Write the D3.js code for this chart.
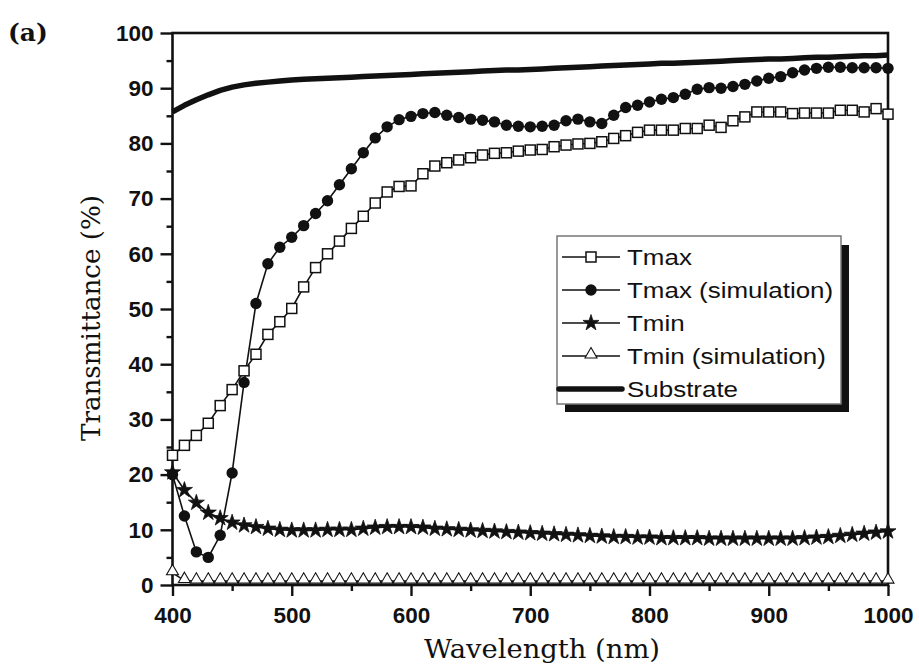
<!DOCTYPE html>
<html>
<head>
<meta charset="utf-8">
<script src="https://cdn.jsdelivr.net/npm/d3@7"></script>
<style>
  body { margin: 0; background: #fff; }
  svg { display: block; }
</style>
</head>
<body>
<div id="chart"></div>
<script>
// wavelengths (nm), one point every 10 nm
var wavelength = [400,410,420,430,440,450,460,470,480,490,
  500,510,520,530,540,550,560,570,580,590,
  600,610,620,630,640,650,660,670,680,690,
  700,710,720,730,740,750,760,770,780,790,
  800,810,820,830,840,850,860,870,880,890,
  900,910,920,930,940,950,960,970,980,990,
  1000];

var tmax = [23.5,25.3,27.1,29.3,32.5,35.4,38.8,41.8,45.4,47.7,
  50.1,54,57.5,60,62.3,64.6,66.8,69.2,71.2,72.2,
  72.3,74.5,75.9,76.5,77,77.4,77.9,78.2,78.3,78.6,
  78.8,78.9,79.4,79.7,79.9,80,80.3,80.9,81.4,82,
  82.4,82.4,82.4,82.7,82.7,83.3,82.9,84.1,84.8,85.7,
  85.7,85.7,85.4,85.5,85.5,85.5,86,86,85.7,86.3,
  85.3];

var tmaxSim = [20,12.5,6,5,9,20.3,36.7,51,58.2,61.2,
  63,65.1,67.3,69.6,72.5,75.4,78.3,81,83,84.3,
  84.9,85.4,85.6,85.1,84.7,84.4,84.2,83.9,83.3,83.1,
  83,83.1,83.3,84.1,84.4,83.9,83.6,85.1,86.5,86.9,
  87.5,88,88.3,88.9,89.8,90.1,90,90.3,90.7,91.3,
  91.8,92.1,92.8,93.3,93.6,93.8,93.8,93.7,93.7,93.7,
  93.6];

var tmin = [20.4,17.2,14.9,13.1,12.1,11.3,10.8,10.5,10.2,10,
  9.9,9.9,9.9,10,10,10,10.2,10.4,10.5,10.5,
  10.5,10.4,10.2,10.1,10,9.9,9.8,9.7,9.6,9.5,
  9.4,9.3,9.2,9.1,9,8.9,8.8,8.7,8.7,8.6,
  8.6,8.5,8.5,8.5,8.5,8.4,8.4,8.4,8.4,8.4,
  8.4,8.4,8.4,8.5,8.6,8.7,8.9,9.1,9.3,9.5,
  9.7];

var tminSim = [2.2,0.8,0.7,0.7,0.7,0.7,0.7,0.7,0.7,0.7,
  0.7,0.7,0.7,0.7,0.7,0.7,0.7,0.7,0.7,0.7,
  0.7,0.7,0.7,0.7,0.7,0.7,0.7,0.7,0.7,0.7,
  0.7,0.7,0.7,0.7,0.7,0.7,0.7,0.7,0.7,0.7,
  0.7,0.7,0.7,0.7,0.7,0.7,0.7,0.7,0.7,0.7,
  0.7,0.7,0.7,0.7,0.7,0.7,0.7,0.7,0.7,0.7,
  0.7];

var substrate = [85.7,86.9,87.9,88.8,89.6,90.2,90.6,90.9,91.1,91.3,
  91.5,91.6,91.7,91.8,91.9,92.0,92.1,92.2,92.3,92.4,
  92.5,92.6,92.7,92.8,92.9,93.0,93.1,93.2,93.3,93.3,
  93.4,93.5,93.6,93.7,93.8,93.9,94.0,94.1,94.2,94.3,
  94.4,94.5,94.5,94.6,94.7,94.8,94.9,95.0,95.1,95.2,
  95.3,95.3,95.4,95.5,95.6,95.6,95.7,95.8,95.9,95.9,
  96.0];

var xTicks = [400, 500, 600, 700, 800, 900, 1000];
var yTicks = [0, 10, 20, 30, 40, 50, 60, 70, 80, 90, 100];
var legendNames = ["Tmax", "Tmax (simulation)", "Tmin", "Tmin (simulation)", "Substrate"];

var ink = "#111";

// set the dimensions and margins of the graph
var margin = {top: 33, right: 31, bottom: 79, left: 172.5},
  width = 919 - margin.left - margin.right,
  height = 664 - margin.top - margin.bottom;

var svg = d3.select("#chart")
  .append("svg")
    .attr("width", 919)
    .attr("height", 664);

var g = svg.append("g")
    .attr("transform", "translate(" + margin.left + "," + margin.top + ")");

var x = d3.scaleLinear().domain([400, 1000]).range([0, width]);
var y = d3.scaleLinear().domain([0, 100]).range([height, 0]);

// minor ticks (no labels)
g.append("g")
  .attr("transform", "translate(0," + height + ")")
  .call(d3.axisBottom(x).tickValues(d3.range(450, 1000, 100)).tickSize(6).tickFormat(""))
  .call(function(a) { a.select(".domain").remove(); });
g.append("g")
  .call(d3.axisLeft(y).tickValues(d3.range(5, 100, 10)).tickSize(6).tickFormat(""))
  .call(function(a) { a.select(".domain").remove(); });

// major axes
g.append("g")
  .attr("transform", "translate(0," + height + ")")
  .call(d3.axisBottom(x).tickValues(xTicks).tickFormat(d3.format("d"))
    .tickSize(11).tickPadding(11).tickSizeOuter(0));
g.append("g")
  .call(d3.axisLeft(y).tickValues(yTicks).tickSize(12).tickPadding(7).tickSizeOuter(0));

g.selectAll(".tick line").attr("stroke", ink).attr("stroke-width", 2.4);
g.selectAll(".domain").remove();
g.selectAll(".tick text")
  .attr("fill", ink)
  .style("font-family", "'Liberation Sans', Arial, sans-serif")
  .style("font-weight", "bold")
  .style("font-size", "22.5px");

// frame
g.append("rect")
  .attr("width", width)
  .attr("height", height)
  .attr("fill", "none")
  .attr("stroke", ink)
  .attr("stroke-width", 2.6);

function lineOf(vals) {
  return d3.line()
    .x(function(d, i) { return x(wavelength[i]); })
    .y(function(d) { return y(d); })(vals);
}

// Substrate
g.append("path")
  .attr("d", lineOf(substrate))
  .attr("fill", "none")
  .attr("stroke", ink)
  .attr("stroke-width", 5.5)
  .attr("stroke-linejoin", "round");

var thin = [tminSim, tmin, tmax, tmaxSim];
thin.forEach(function(vals) {
  g.append("path")
    .attr("d", lineOf(vals))
    .attr("fill", "none")
    .attr("stroke", ink)
    .attr("stroke-width", 1.6);
});

var triangle = d3.symbol().type(d3.symbolTriangle).size(62);
var star = d3.symbol().type(d3.symbolStar).size(80);

// Tmin (simulation) triangles
g.selectAll(".tri")
  .data(tminSim)
  .enter()
  .append("path")
    .attr("transform", function(d, i) { return "translate(" + x(wavelength[i]) + "," + (y(d) - 1.5) + ")"; })
    .attr("d", triangle)
    .attr("fill", "#fff")
    .attr("stroke", ink)
    .attr("stroke-width", 1.1);

// Tmin stars
g.selectAll(".star")
  .data(tmin)
  .enter()
  .append("path")
    .attr("transform", function(d, i) { return "translate(" + x(wavelength[i]) + "," + y(d) + ")"; })
    .attr("d", star)
    .attr("fill", ink)
    .attr("stroke", ink)
    .attr("stroke-width", 0.8);

// Tmax squares
g.selectAll(".sq")
  .data(tmax)
  .enter()
  .append("rect")
    .attr("x", function(d, i) { return x(wavelength[i]) - 5; })
    .attr("y", function(d) { return y(d) - 5; })
    .attr("width", 10)
    .attr("height", 10)
    .attr("fill", "#fff")
    .attr("stroke", ink)
    .attr("stroke-width", 1.5);

// Tmax (simulation) dots
g.selectAll(".dot")
  .data(tmaxSim)
  .enter()
  .append("circle")
    .attr("cx", function(d, i) { return x(wavelength[i]); })
    .attr("cy", function(d) { return y(d); })
    .attr("r", 5.7)
    .attr("fill", ink);

// axis titles
svg.append("text")
  .attr("x", 542)
  .attr("y", 658)
  .attr("text-anchor", "middle")
  .attr("textLength", 236)
  .attr("lengthAdjust", "spacingAndGlyphs")
  .style("font-family", "'DejaVu Serif', serif")
  .style("font-size", "26px")
  .attr("fill", ink)
  .text("Wavelength (nm)");

svg.append("text")
  .attr("transform", "translate(100,318)rotate(-90)")
  .attr("text-anchor", "middle")
  .attr("textLength", 246)
  .attr("lengthAdjust", "spacingAndGlyphs")
  .style("font-family", "'DejaVu Serif', serif")
  .style("font-size", "26px")
  .attr("fill", ink)
  .text("Transmittance (%)");

svg.append("text")
  .attr("x", 8)
  .attr("y", 41)
  .style("font-family", "'DejaVu Serif', serif")
  .style("font-weight", "bold")
  .style("font-size", "25px")
  .attr("fill", ink)
  .text("(a)");

// legend
var lg = svg.append("g");
lg.append("rect")
  .attr("x", 565).attr("y", 245)
  .attr("width", 284).attr("height", 167)
  .attr("fill", ink);
lg.append("rect")
  .attr("x", 557).attr("y", 236)
  .attr("width", 284).attr("height", 168)
  .attr("fill", "#fff")
  .attr("stroke", "#777")
  .attr("stroke-width", 1.5);

var rowY = d3.scalePoint().domain(legendNames).range([257, 389]);

legendNames.forEach(function(name, i) {
  var yy = rowY(name);
  var row = lg.append("g").attr("transform", "translate(0," + yy + ")");
  row.append("line")
    .attr("x1", i == 4 ? 559 : 562).attr("x2", i == 4 ? 622 : 620)
    .attr("stroke", ink)
    .attr("stroke-width", i == 4 ? 5.5 : 1.6)
    .attr("stroke-linecap", i == 4 ? "round" : "butt");
  if (i == 0) {
    row.append("rect").attr("x", 586).attr("y", -5).attr("width", 10).attr("height", 10)
      .attr("fill", "#fff").attr("stroke", ink).attr("stroke-width", 1.5);
  } else if (i == 1) {
    row.append("circle").attr("cx", 591).attr("r", 5.7).attr("fill", ink);
  } else if (i == 2) {
    row.append("path").attr("transform", "translate(591,0)").attr("d", star)
      .attr("fill", ink).attr("stroke", ink).attr("stroke-width", 0.8);
  } else if (i == 3) {
    row.append("path").attr("transform", "translate(591,-1.5)").attr("d", triangle)
      .attr("fill", "#fff").attr("stroke", ink).attr("stroke-width", 1.1);
  }
  row.append("text")
    .attr("transform", "translate(627,8)scale(1.18,1)")
    .style("font-family", "'Liberation Sans', Arial, sans-serif")
    .style("font-size", "22px")
    .attr("fill", ink)
    .text(name);
});
</script>
</body>
</html>
